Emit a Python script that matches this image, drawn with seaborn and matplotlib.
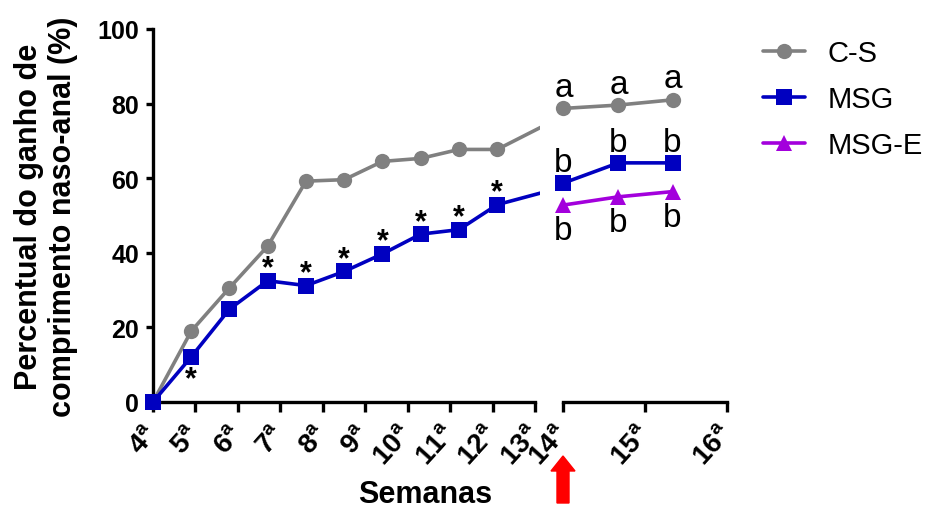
import numpy as np
import pandas as pd
import matplotlib.pyplot as plt
import seaborn as sns
from matplotlib.lines import Line2D
from matplotlib.patches import FancyArrow

# data
semanas = [4.0, 4.9, 5.8, 6.7, 7.6, 8.5, 9.4, 10.3, 11.2, 12.1, 14.0, 14.67, 15.33]
cs = [0, 19.0, 30.6, 41.8, 59.2, 59.6, 64.5, 65.3, 67.7, 67.7, 78.7, 79.6, 81.0]
msg = [0, 12.1, 24.9, 32.5, 31.2, 35.0, 39.7, 45.0, 46.2, 52.9, 58.7, 64.1, 64.1]
semanas_e = [14.0, 14.67, 15.33]
msg_e = [52.8, 55.0, 56.4]
asterisco_acima = [3, 4, 5, 6, 7, 8, 9]   # indices of MSG points with * above
asterisco_abaixo = [1]
letras_cs = ["a", "a", "a"]
letras_msg = ["b", "b", "b"]
letras_msge = ["b", "b", "b"]
ticks_esq = list(range(4, 14))
ticks_dir = [14, 15, 16]

grupos = ["C-S", "MSG", "MSG-E"]
cores = {"C-S": "#808080", "MSG": "#0000c0", "MSG-E": "#a300dc"}
marcadores = {"C-S": "o", "MSG": "s", "MSG-E": "^"}

df = pd.concat([
    pd.DataFrame({"grupo": "C-S", "semana": semanas, "valor": cs}),
    pd.DataFrame({"grupo": "MSG", "semana": semanas, "valor": msg}),
    pd.DataFrame({"grupo": "MSG-E", "semana": semanas_e, "valor": msg_e}),
], ignore_index=True)

sns.set_style("ticks")
plt.rcParams["font.family"] = ["Liberation Sans", "DejaVu Sans"]
plt.rcParams["mathtext.fontset"] = "custom"
plt.rcParams["mathtext.rm"] = "Liberation Sans"
plt.rcParams["mathtext.bf"] = "Liberation Sans:bold"
plt.rcParams["text.color"] = "black"
plt.rcParams["axes.edgecolor"] = "black"
plt.rcParams["xtick.color"] = "black"
plt.rcParams["ytick.color"] = "black"
plt.rcParams["axes.labelcolor"] = "black"

W, H = 928, 510
fig = plt.figure(figsize=(W / 100, H / 100), dpi=100)

# broken x axis: two axes side by side
px_sem = 42.5
ax1 = fig.add_axes([140.25 / W, (H - 417.9) / H, 399.75 / W, 395.4 / H])
ax2 = fig.add_axes([547.1 / W, (H - 417.9) / H, 188.6 / W, 395.4 / H], facecolor="none")

kw = dict(x="semana", y="valor", hue="grupo", style="grupo", hue_order=grupos,
          style_order=grupos, palette=cores, markers=marcadores, dashes=False,
          linewidth=2.6, markersize=11, markeredgewidth=0, zorder=3, legend=False)
sns.lineplot(data=df, ax=ax1, **kw)
sns.lineplot(data=df[df.semana >= 14], ax=ax2, **kw)

for ax in (ax1, ax2):
    ax.set_ylim(-4, 102)
    ax.set_xlabel("")
    ax.set_ylabel("")
    ax.spines["top"].set_visible(False)
    ax.spines["right"].set_visible(False)
    ax.spines["bottom"].set_position(("data", 0))
    ax.spines["bottom"].set_linewidth(2.4)
    ax.tick_params(axis="x", length=7, width=2.4, pad=12)

ax1.set_xlim(3.7, 4 + (540 - 153) / px_sem)
ax2.set_xlim(13.8, 16.1)
ax1.spines["left"].set_position(("data", 4))
ax1.spines["left"].set_bounds(0, 100)
ax1.spines["left"].set_linewidth(2.4)
ax1.spines["bottom"].set_bounds(4, 13)
ax2.spines["bottom"].set_bounds(14, 16)
ax2.spines["left"].set_visible(False)
ax2.tick_params(axis="y", left=False, labelleft=False)

ax1.set_yticks(range(0, 101, 20))
ax1.set_yticklabels([str(v) for v in range(0, 101, 20)], fontsize=18, fontweight="bold")
ax1.tick_params(axis="y", length=5, width=2.4, pad=5)

for ax, ticks in ((ax1, ticks_esq), (ax2, ticks_dir)):
    ax.set_xticks(ticks)
    ax.set_xticklabels([r"$\mathbf{%d^{a}}$" % t for t in ticks], fontsize=20,
                       rotation=48, ha="right", va="center", rotation_mode="anchor")

ax1.set_ylabel("Percentual do ganho de\ncomprimento naso-anal (%)",
               fontsize=22, fontweight="bold", linespacing=1.15)
ax1.yaxis.set_label_coords(-0.156, 0.509)
fig.text(425 / W, 1 - 495 / H, "Semanas", ha="center", va="center",
         fontsize=22, fontweight="bold")

# significance marks
for i in asterisco_acima:
    ax1.annotate("*", (semanas[i], msg[i]), xytext=(0, 3), textcoords="offset points",
                 ha="center", va="baseline", fontsize=22, fontweight="bold")
for i in asterisco_abaixo:
    ax1.annotate("*", (semanas[i], msg[i]), xytext=(0, -22), textcoords="offset points",
                 ha="center", va="baseline", fontsize=22, fontweight="bold")

for j in range(3):
    ax2.annotate(letras_cs[j], (semanas[10 + j], cs[10 + j]), xytext=(0, 9),
                 textcoords="offset points", ha="center", va="baseline", fontsize=24)
    ax2.annotate(letras_msg[j], (semanas[10 + j], msg[10 + j]), xytext=(0, 8.3),
                 textcoords="offset points", ha="center", va="baseline", fontsize=24)
    ax2.annotate(letras_msge[j], (semanas_e[j], msg_e[j]), xytext=(0, -24.5),
                 textcoords="offset points", ha="center", va="baseline", fontsize=24)

handles = [Line2D([], [], color=cores[g], marker=marcadores[g], linewidth=2.6,
                  markersize=11, markeredgewidth=0) for g in grupos]
fig.legend(handles, grupos, loc="upper left", bbox_to_anchor=(763 / W, 1 - 40 / H),
           frameon=False, fontsize=21, handlelength=1.45, handletextpad=0.75,
           labelspacing=0.62, borderpad=0, borderaxespad=0)

# red arrow under week 14
fig.add_artist(FancyArrow(5.63, 0.06, 0, 0.47, width=0.12, head_width=0.24,
                          head_length=0.15, length_includes_head=True,
                          color="#ff0000", transform=fig.dpi_scale_trans))

fig.savefig("out.png", dpi=100)
